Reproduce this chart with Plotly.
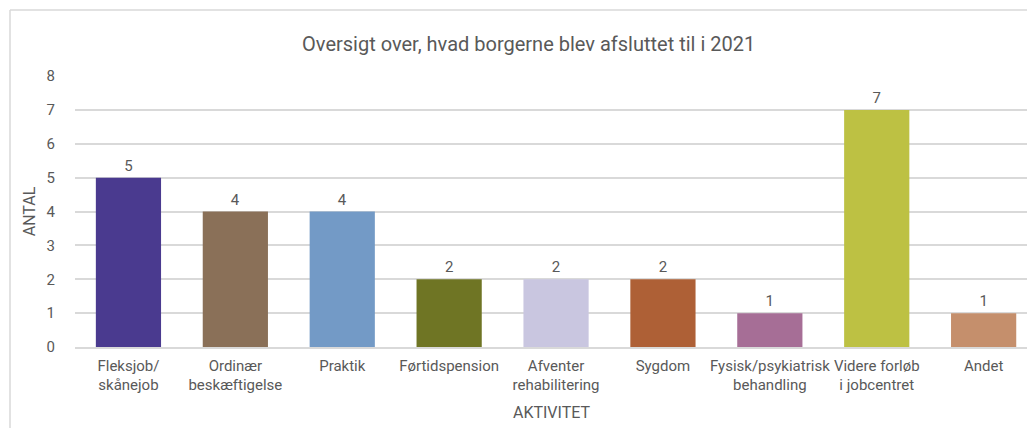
import plotly.graph_objects as go

# Data
categories = [
    "Fleksjob/<br>skånejob",
    "Ordinær<br>beskæftigelse",
    "Praktik",
    "Førtidspension",
    "Afventer<br>rehabilitering",
    "Sygdom",
    "Fysisk/psykiatrisk<br>behandling",
    "Videre forløb<br>i jobcentret",
    "Andet",
]
antal = [5, 4, 4, 2, 2, 2, 1, 7, 1]
bar_colors = [
    "#4a3a8f", "#8a7058", "#739ac6", "#6f7524", "#c9c6e0",
    "#ae6036", "#a66e96", "#bdc143", "#c58f6c",
]
y_ticks = [0, 1, 2, 3, 4, 5, 6, 7, 8]

FONT = "Roboto"
TXT = "#595959"
GRID = "#d9d9d9"

fig = go.Figure()
fig.add_trace(go.Bar(
    x=list(range(len(categories))),
    y=antal,
    marker=dict(color=bar_colors, line=dict(width=0)),
    width=0.61,
    text=antal,
    textposition="outside",
    textfont=dict(family=FONT, size=15, color=TXT),
    cliponaxis=False,
))

# light chart-area border (top and left edges visible)
fig.add_shape(type="line", xref="paper", yref="paper",
              x0=-0.0682, x1=1.2, y0=1.2435, y1=1.2435,
              line=dict(color=GRID, width=1.5))
fig.add_shape(type="line", xref="paper", yref="paper",
              x0=-0.0682, x1=-0.0682, y0=-0.4, y1=1.2435,
              line=dict(color=GRID, width=1.5))

fig.update_layout(
    width=1035, height=428,
    margin=dict(l=67, r=15, t=68, b=89, autoexpand=False),
    paper_bgcolor="white", plot_bgcolor="white",
    showlegend=False,
    font=dict(family=FONT, color=TXT, size=15),
    title=dict(
        text="Oversigt over, hvad borgerne blev afsluttet til i 2021",
        x=0.476, xref="paper", xanchor="center",
        y=0.916, yref="container", yanchor="middle",
        font=dict(family=FONT, size=20, color=TXT),
    ),
)
fig.update_xaxes(
    range=[-0.5, 8.415],
    tickmode="array",
    tickvals=list(range(len(categories))),
    ticktext=categories,
    tickangle=0,
    automargin=False,
    tickfont=dict(family=FONT, size=15, color=TXT),
    showgrid=False,
    showline=True, linecolor=GRID, linewidth=1.5,
    ticks="",
    ticklabelstandoff=4,
    title=dict(text="AKTIVITET", font=dict(family=FONT, size=16, color=TXT), standoff=14),
)
fig.update_yaxes(
    range=[0, 8],
    tickvals=y_ticks,
    automargin=False,
    tickfont=dict(family=FONT, size=15, color=TXT),
    showgrid=True, gridcolor=GRID, gridwidth=1.5,
    zeroline=False,
    ticks="",
    ticklabelstandoff=19,
    title=dict(text="ANTAL", font=dict(family=FONT, size=16, color=TXT), standoff=6),
)

fig.write_html("out.html")
